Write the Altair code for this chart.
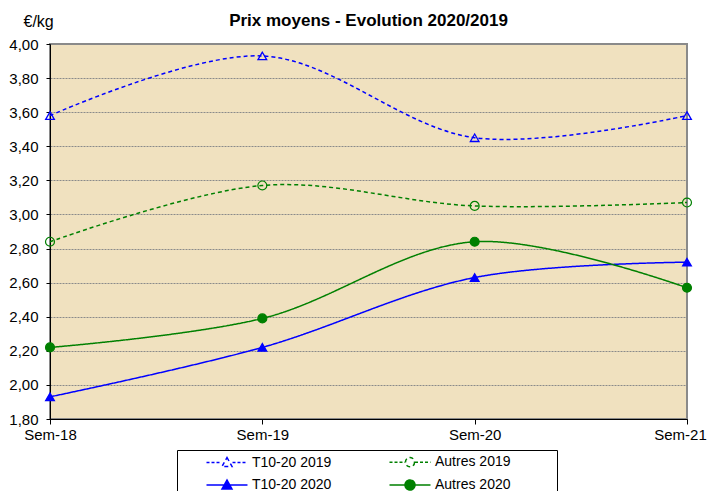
import altair as alt
import pandas as pd

cats = ["Sem-18", "Sem-19", "Sem-20", "Sem-21"]
series_names = ["T10-20 2019", "T10-20 2020", "Autres 2019", "Autres 2020"]
t10_2019 = [3.58, 3.93, 3.45, 3.58]
t10_2020 = [1.93, 2.22, 2.63, 2.72]
autres_2019 = [2.84, 3.17, 3.05, 3.07]
autres_2020 = [2.22, 2.39, 2.84, 2.57]
y_ticks = [1.8, 2.0, 2.2, 2.4, 2.6, 2.8, 3.0, 3.2, 3.4, 3.6, 3.8, 4.0]

values = [t10_2019, t10_2020, autres_2019, autres_2020]
rows = []
for name, vals in zip(series_names, values):
    for c, v in zip(cats, vals):
        rows.append({"series": name, "sem": c, "value": v})
df = pd.DataFrame(rows)

BLUE = "#0000FF"
GREEN = "#008000"
colors = [BLUE, BLUE, GREEN, GREEN]
fills = ["transparent", BLUE, "transparent", GREEN]
dashes = [[4, 3], [1, 0], [4, 3], [1, 0]]
FONT = "Liberation Sans"

# legend symbol paths (line + marker); unit = 7px (symbolSize 196), shifted right
U = 7.0
C = 38 / U          # marker centre
HW = 20.5 / U       # half width of the line sample

def dashed(x0, x1, dash=3 / U, gap=2 / U):
    parts = []
    x = x0
    while x < x1 - 1e-6:
        e = min(x + dash, x1)
        parts.append(f"M{x:.3f},0L{e:.3f},0")
        x = e + gap
    return "".join(parts)

def tri_path(c):
    return f"M{c:.3f},{-5/U:.3f}L{c+5/U:.3f},{4/U:.3f}L{c-5/U:.3f},{4/U:.3f}Z"

def circ_path(c, rr):
    return (f"M{c+rr:.3f},0A{rr:.3f},{rr:.3f} 0 1,1 {c-rr:.3f},0"
            f"A{rr:.3f},{rr:.3f} 0 1,1 {c+rr:.3f},0Z")

solid = f"M{C-HW:.3f},0L{C+HW:.3f},0"
paths = [
    dashed(C - HW, C - 5.5 / U) + dashed(C + 5.5 / U, C + HW) + tri_path(C),
    solid + tri_path(C),
    dashed(C - HW, C - 5 / U) + dashed(C + 5 / U, C + HW) + circ_path(C, 4.5 / U),
    solid + circ_path(C, 5 / U),
]

x_enc = alt.X("sem:N", sort=cats, scale=alt.Scale(domain=cats, padding=0),
              axis=alt.Axis(title=None, labelAngle=0, labelFontSize=15, labelFont=FONT,
                            labelColor="black", domainColor="black", tickColor="black",
                            tickSize=5, grid=False, labelPadding=3,
                            labelOffset={"condition": {"test": "datum.value === 'Sem-21'", "value": -7},
                                         "value": 0}))
y_enc = alt.Y("value:Q", scale=alt.Scale(domain=[1.8, 4.0], nice=False, zero=False),
              axis=alt.Axis(values=y_ticks, labelExpr="replace(format(datum.value, '.2f'), '.', ',')",
                            labelFontSize=15, labelFont=FONT, labelColor="black",
                            labelPadding=8,
                            domainColor="black", tickColor="black", tickSize=4,
                            grid=True, gridColor="#8a8a8a", gridDash=[2, 1], gridWidth=1,
                            title="€/kg", titleAngle=0, titleX=-27, titleY=-18,
                            titleAlign="left", titleBaseline="alphabetic",
                            titleFontWeight="normal", titleFontSize=16, titleFont=FONT,
                            titleColor="black"))

color_scale = alt.Scale(domain=series_names, range=colors)
fill_scale = alt.Scale(domain=series_names, range=fills)

PAD = "\u2003" * 3 + "\u200b"
leg = alt.Legend(title=None, orient="none", legendX=127, legendY=406, columns=2,
                 strokeColor="black", fillColor="white", padding=4,
                 symbolSize=196, symbolStrokeWidth=1.5, labelFontSize=14,
                 labelFont=FONT, labelColor="black", labelOffset=55,
                 columnPadding=32, rowPadding=6, cornerRadius=0, labelLimit=400,
                 labelExpr=f"indexof(datum.label, 'Autres') >= 0 ? datum.label + '{PAD}' : datum.label")

legend_layer = alt.Chart(df).transform_filter("false").mark_point(
    size=196, strokeWidth=1.5, opacity=1).encode(
    x=x_enc, y=y_enc,
    color=alt.Color("series:N", scale=color_scale, legend=leg),
    fill=alt.Fill("series:N", scale=fill_scale, legend=leg),
    shape=alt.Shape("series:N", scale=alt.Scale(domain=series_names, range=paths), legend=leg),
)

lines = alt.Chart(df).mark_line(interpolate="catmull-rom", strokeWidth=1.5).encode(
    x=x_enc, y=y_enc,
    color=alt.Color("series:N", scale=color_scale, legend=None),
    strokeDash=alt.StrokeDash("series:N", scale=alt.Scale(domain=series_names, range=dashes),
                              legend=None),
    detail="series:N",
)

tri_pts = alt.Chart(df).transform_filter(
    "indexof(datum.series, 'T10') >= 0").mark_point(
    shape="triangle-up", size=75, strokeWidth=1.3, opacity=1).encode(
    x=x_enc, y=y_enc,
    color=alt.Color("series:N", scale=color_scale, legend=None),
    fill=alt.Fill("series:N", scale=fill_scale, legend=None),
)

circ_pts = alt.Chart(df).transform_filter(
    "indexof(datum.series, 'Autres') >= 0").mark_point(
    shape="circle", size=80, strokeWidth=1.2, opacity=1).encode(
    x=x_enc, y=y_enc,
    color=alt.Color("series:N", scale=color_scale, legend=None),
    fill=alt.Fill("series:N", scale=fill_scale, legend=None),
)

chart = alt.layer(legend_layer, lines, tri_pts, circ_pts).properties(
    width=637, height=375,
    autosize=alt.AutoSizeParams(type="none"),
    padding={"left": 42, "top": 36, "right": 20, "bottom": 72},
    title=alt.Title("Prix moyens - Evolution 2020/2019", fontSize=17, font=FONT,
                    fontWeight="bold", color="black", anchor="middle", offset=0, dy=17),
).configure_view(fill="#F0E1BF", stroke="#8a8a8a", strokeWidth=2)

chart.save("out.html", embed_options={"renderer": "svg", "actions": False})
